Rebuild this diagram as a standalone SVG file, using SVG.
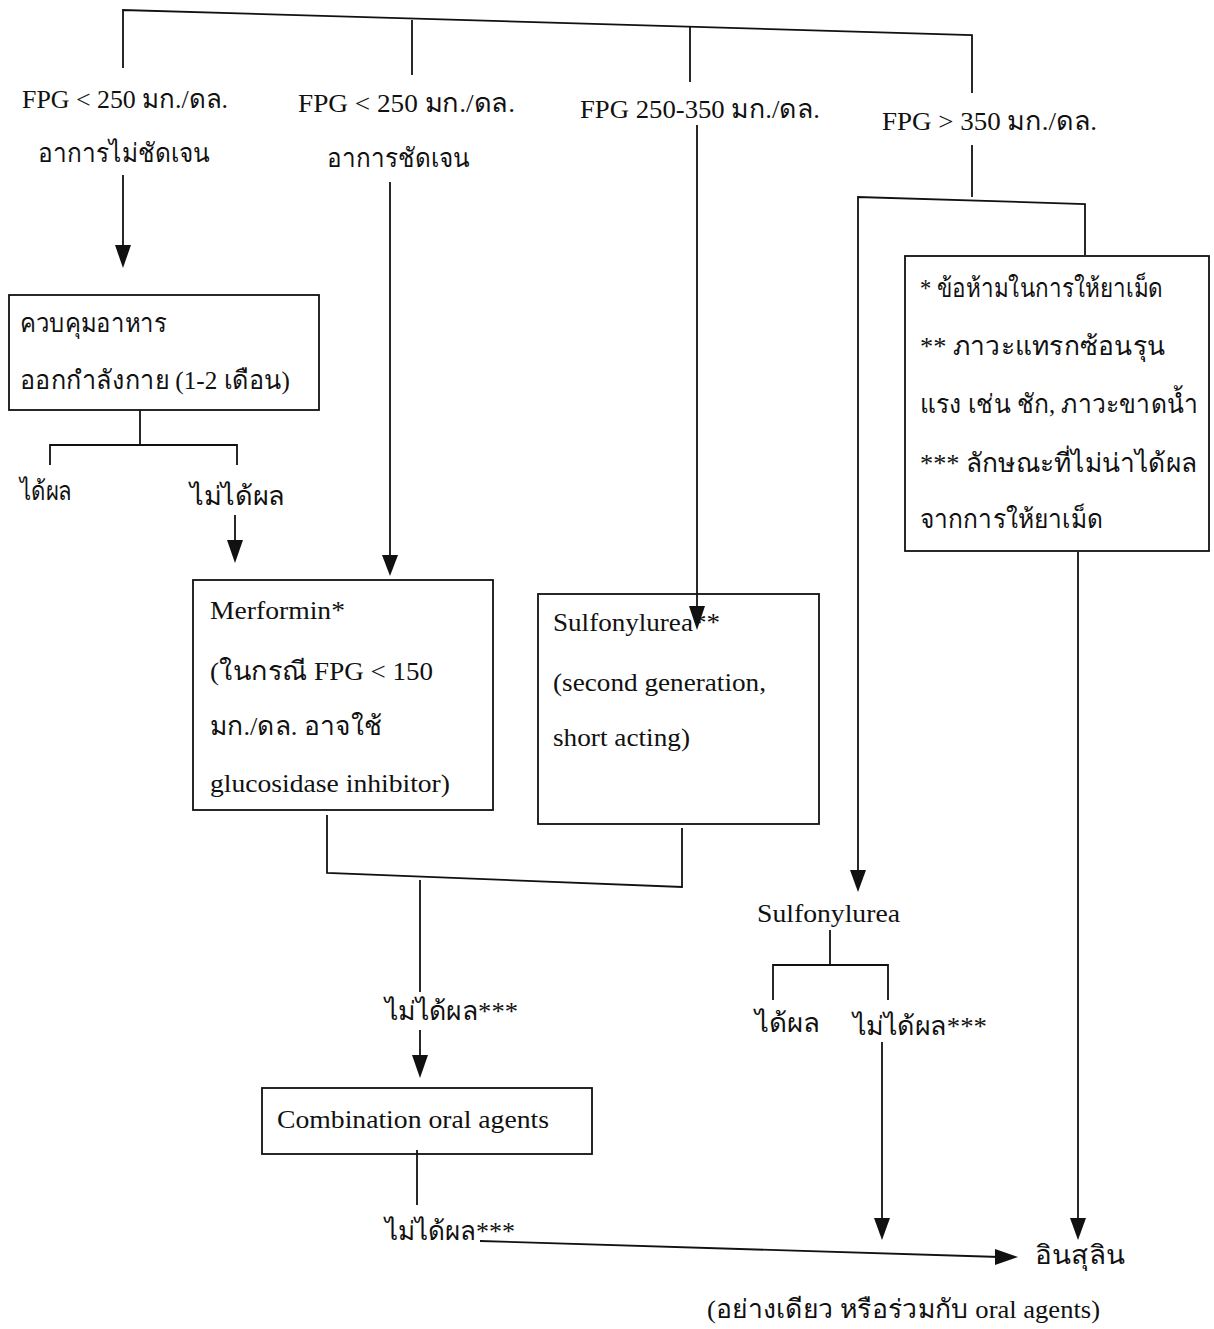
<svg xmlns="http://www.w3.org/2000/svg" width="1214" height="1329" viewBox="0 0 1214 1329">
<style>
text{font-family:"Liberation Serif","Noto Sans","DejaVu Sans",serif;font-size:26px;fill:#111}
.ln{stroke:#111;stroke-width:1.8;fill:none}
.bx{stroke:#111;stroke-width:1.8;fill:none}
.ah{fill:#111}
</style>
<rect width="1214" height="1329" fill="#fff"/>
<g id="connectors">
<path class="ln" d="M123,68 L123,10 L972,35 L972,93" stroke-width="2.2"/>
<path class="ln" d="M412,20 L412,75"/>
<path class="ln" d="M690,27 L690,82"/>
<path class="ln" d="M123,175 L123,250"/>
<path class="ln" d="M390,182 L390,560"/>
<path class="ln" d="M697,125 L697,612"/>
<path class="ln" d="M972,145 L972,197"/>
<path class="ln" d="M858,875 L858,197 L1085,204 L1085,255"/>
<path class="ln" d="M1078,552 L1078,1222"/>
<path class="ln" d="M140,410 L140,445"/>
<path class="ln" d="M50,465 L50,445 L237,445 L237,465"/>
<path class="ln" d="M235,515 L235,545"/>
<path class="ln" d="M327,815 L327,873 L682,887 L682,828"/>
<path class="ln" d="M420,880 L420,992"/>
<path class="ln" d="M420,1030 L420,1060"/>
<path class="ln" d="M417,1150 L417,1205"/>
<path class="ln" d="M480,1241 L1000,1257"/>
<path class="ln" d="M830,930 L830,965"/>
<path class="ln" d="M773,1000 L773,965 L888,965 L888,1000"/>
<path class="ln" d="M882,1042 L882,1222"/>
<path class="ah" d="M115,245 L131,245 L123,268 Z"/>
<path class="ah" d="M382,555 L398,555 L390,576 Z"/>
<path class="ah" d="M689,606 L705,606 L697,630 Z"/>
<path class="ah" d="M227,540 L243,540 L235,563 Z"/>
<path class="ah" d="M850,870 L866,870 L858,892 Z"/>
<path class="ah" d="M412,1055 L428,1055 L420,1078 Z"/>
<path class="ah" d="M874,1218 L890,1218 L882,1240 Z"/>
<path class="ah" d="M1070,1218 L1086,1218 L1078,1240 Z"/>
<path class="ah" d="M995,1249 L1018,1257 L995,1265 Z"/>
</g>
<g id="n1"><text x="22" y="108" textLength="206" lengthAdjust="spacingAndGlyphs">FPG &lt; 250 มก./ดล.</text><text x="38" y="162" textLength="172" lengthAdjust="spacingAndGlyphs">อาการไม่ชัดเจน</text></g>
<g id="n2"><text x="298" y="112" textLength="217" lengthAdjust="spacingAndGlyphs">FPG &lt; 250 มก./ดล.</text><text x="327" y="167" textLength="143" lengthAdjust="spacingAndGlyphs">อาการชัดเจน</text></g>
<g id="n3"><text x="580" y="118" textLength="240" lengthAdjust="spacingAndGlyphs">FPG 250-350 มก./ดล.</text></g>
<g id="n4"><text x="882" y="130" textLength="215" lengthAdjust="spacingAndGlyphs">FPG &gt; 350 มก./ดล.</text></g>
<g id="box1"><rect class="bx" x="9" y="295" width="310" height="115"/><text x="20" y="332" textLength="147" lengthAdjust="spacingAndGlyphs">ควบคุมอาหาร</text><text x="20" y="389" textLength="270" lengthAdjust="spacingAndGlyphs">ออกกำลังกาย (1-2 เดือน)</text></g>
<g id="r1"><text x="20" y="500" textLength="52" lengthAdjust="spacingAndGlyphs">ได้ผล</text><text x="190" y="505" textLength="95" lengthAdjust="spacingAndGlyphs">ไม่ได้ผล</text></g>
<g id="box2"><rect class="bx" x="193" y="580" width="300" height="230"/><text x="210" y="619" textLength="135" lengthAdjust="spacingAndGlyphs">Merformin*</text><text x="210" y="680" textLength="223" lengthAdjust="spacingAndGlyphs">(ในกรณี FPG &lt; 150</text><text x="210" y="735" textLength="172" lengthAdjust="spacingAndGlyphs">มก./ดล. อาจใช้</text><text x="210" y="792" textLength="240" lengthAdjust="spacingAndGlyphs">glucosidase inhibitor)</text></g>
<g id="box3"><rect class="bx" x="538" y="594" width="281" height="230"/><text x="553" y="631" textLength="167" lengthAdjust="spacingAndGlyphs">Sulfonylurea**</text><text x="553" y="691" textLength="213" lengthAdjust="spacingAndGlyphs">(second generation,</text><text x="553" y="746" textLength="137" lengthAdjust="spacingAndGlyphs">short acting)</text></g>
<g id="box4"><rect class="bx" x="905" y="256" width="304" height="295"/><text x="920" y="297" textLength="243" lengthAdjust="spacingAndGlyphs">* ข้อห้ามในการให้ยาเม็ด</text><text x="920" y="355" textLength="245" lengthAdjust="spacingAndGlyphs">** ภาวะแทรกซ้อนรุน</text><text x="920" y="413" textLength="278" lengthAdjust="spacingAndGlyphs">แรง เช่น ชัก, ภาวะขาดน้ำ</text><text x="920" y="472" textLength="277" lengthAdjust="spacingAndGlyphs">*** ลักษณะที่ไม่น่าได้ผล</text><text x="920" y="528" textLength="183" lengthAdjust="spacingAndGlyphs">จากการให้ยาเม็ด</text></g>
<g id="r2"><text x="385" y="1020" textLength="133" lengthAdjust="spacingAndGlyphs">ไม่ได้ผล***</text></g>
<g id="box5"><rect class="bx" x="262" y="1088" width="330" height="66"/><text x="277" y="1128" textLength="272" lengthAdjust="spacingAndGlyphs">Combination oral agents</text></g>
<g id="r3"><text x="385" y="1240" textLength="130" lengthAdjust="spacingAndGlyphs">ไม่ได้ผล***</text></g>
<g id="sulf"><text x="757" y="922" textLength="143" lengthAdjust="spacingAndGlyphs">Sulfonylurea</text></g>
<g id="r4"><text x="755" y="1032" textLength="65" lengthAdjust="spacingAndGlyphs">ได้ผล</text><text x="853" y="1035" textLength="134" lengthAdjust="spacingAndGlyphs">ไม่ได้ผล***</text></g>
<g id="insulin"><text x="1035" y="1264" textLength="90" lengthAdjust="spacingAndGlyphs">อินสุลิน</text><text x="707" y="1318" textLength="393" lengthAdjust="spacingAndGlyphs">(อย่างเดียว หรือร่วมกับ oral agents)</text></g>
</svg>
